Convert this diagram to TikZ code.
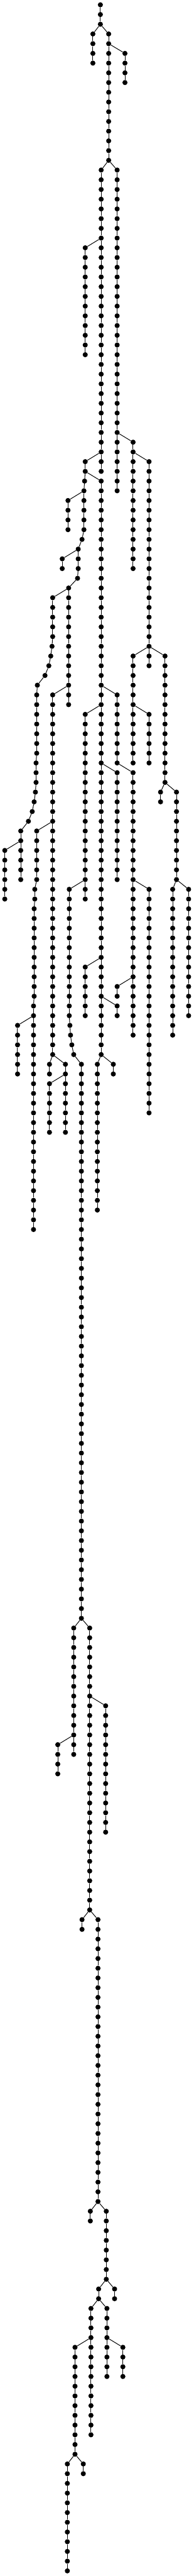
\documentclass[tikz,border=0pt]{standalone}

\begin{document}
\begin{tikzpicture}[
  x=0.3333pt, y=-20.266pt,
  dot/.style={circle, fill=black, draw=none, inner sep=0pt, minimum size=10.6pt},
  edge/.style={black, line width=1.3pt},
]
\useasboundingbox (0,-0.4934) rectangle (1212,264.53);

% ---------------- root ----------------
\foreach \l in {0,1,2} {\node[dot] (n\l-629) at (629,\l) {};}
\draw[edge] (n0-629) -- (n1-629);
\draw[edge] (n1-629) -- (n2-629);

% ---------------- branches: x / first level / last level / parent x ----------------
\foreach \x/\a/\b/\p in {
  582/3/6/629, 681/3/16/629, 783/5/8/681,
  634/17/48/681, 734/17/50/681, 534/25/36/634, 534/47/48/634,
  834/45/58/734, 934/47/66/834,
  530/49/49/534, 634/49/108/534, 526/50/54/530, 426/51/54/526,
  514/55/55/526, 490/56/58/514, 390/57/58/490, 486/59/59/490,
  430/60/72/486, 330/61/65/430, 326/66/66/330,
  834/67/78/934, 934/67/68/934, 1034/67/80/934,
  318/67/67/326, 306/68/68/318, 282/69/69/306, 234/70/70/282, 230/71/77/234,
  330/71/108/430, 734/71/78/634, 534/73/92/634, 934/73/78/834,
  226/78/80/230, 734/79/90/634, 834/79/106/734,
  222/81/81/226, 1006/81/82/1034, 1106/81/90/1034,
  214/82/82/222, 202/83/83/214, 178/84/84/202,
  130/85/90/178, 230/85/90/330, 30/87/92/130,
  218/91/92/230, 434/91/104/534, 934/91/114/834, 1082/91/106/1106, 1182/91/104/1106,
  214/93/102/218, 534/99/104/634, 734/101/102/834,
  210/103/126/214, 734/103/104/634, 110/105/110/210,
  438/105/105/434, 442/106/106/438, 450/107/107/442, 462/108/108/450,
  310/109/110/330, 410/109/116/330, 510/109/166/462, 610/109/124/634, 710/109/110/634,
  310/111/116/410,
  462/167/180/510, 562/167/196/510, 662/175/188/562, 362/179/182/462,
  514/197/198/562, 614/197/226/562,
  566/227/228/614, 666/227/234/614, 618/235/236/666, 718/235/236/666,
  570/237/250/618, 670/237/244/618, 470/241/252/570, 770/241/244/670,
  422/253/264/470, 522/253/254/470%
}{
  \foreach \l in {\a,...,\b}{
    \node[dot] (n\l-\x) at (\x,\l) {};
    \pgfmathtruncatemacro{\up}{\l-1}
    \ifnum\l=\a\relax
      \draw[edge] (n\up-\p) -- (n\l-\x);
    \else
      \draw[edge] (n\up-\x) -- (n\l-\x);
    \fi
  }
}

\end{tikzpicture}
\end{document}
